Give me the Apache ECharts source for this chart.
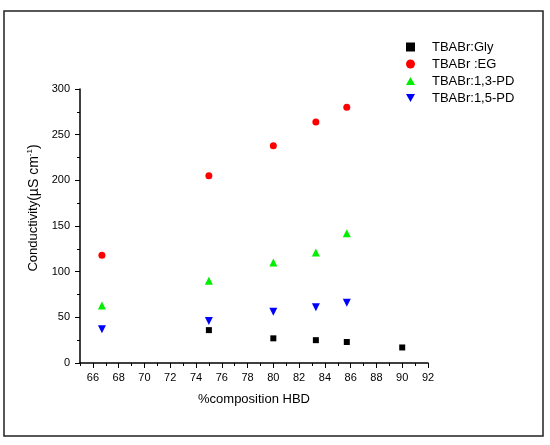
<!DOCTYPE html>
<html>
<head>
<meta charset="utf-8">
<script src="https://cdn.jsdelivr.net/npm/echarts@6/dist/echarts.min.js"></script>
<style>
  html, body { margin: 0; padding: 0; background: #fff; }
  #chart { width: 550px; height: 445px; }
</style>
</head>
<body>
<div id="chart"></div>
<script>
  // composition of HBD (%) and conductivity (uS/cm)
  var hbd = [66.7, 75, 80, 83.3, 85.7];
  var hbdGly = [75, 80, 83.3, 85.7, 90];
  var gly = [36, 27, 25, 23, 17];
  var eg = [118, 205, 238, 264, 280];
  var pd13 = [63, 90, 110, 121, 142];
  var pd15 = [37, 46, 56, 61, 66];

  var xMajor = [66, 68, 70, 72, 74, 76, 78, 80, 82, 84, 86, 88, 90, 92];
  var xMinor = [65, 67, 69, 71, 73, 75, 77, 79, 81, 83, 85, 87, 89, 91];

  var font = 'Liberation Sans, Arial, sans-serif';

  function pairs(xs, ys) {
    var res = [];
    for (var i = 0; i < ys.length; i++) {
      res.push([xs[i], ys[i]]);
    }
    return res;
  }

  var downTri = 'path://M0,0 L10,0 L5,9 Z';
  var upTri = 'path://M5,0 L10,9 L0,9 Z';

  var chart = echarts.init(document.getElementById('chart'));

  var option = {
    animation: false,
    backgroundColor: '#fff',
    textStyle: { fontFamily: font },
    graphic: [{
      type: 'rect',
      shape: { x: 4, y: 11, width: 539, height: 425 },
      style: { fill: 'none', stroke: '#222', lineWidth: 1.5 }
    }],
    grid: { left: 80, right: 122, top: 89, bottom: 82 },
    legend: {
      left: 401,
      top: 35,
      orient: 'vertical',
      itemWidth: 9,
      itemHeight: 9,
      itemGap: 3,
      textStyle: { fontFamily: font, fontSize: 13, color: '#000', lineHeight: 14, padding: [0, 0, 0, 12] },
      data: [
        { name: 'TBABr:Gly', icon: 'path://M0,0 L8,0 L8,8 L0,8 Z' },
        { name: 'TBABr :EG', icon: 'circle' },
        { name: 'TBABr:1,3-PD', icon: upTri },
        { name: 'TBABr:1,5-PD', icon: downTri }
      ]
    },
    xAxis: [{
      type: 'value',
      min: 65,
      max: 92,
      name: '%composition HBD',
      nameLocation: 'middle',
      nameGap: 30,
      nameTextStyle: { fontFamily: font, fontSize: 13, color: '#000' },
      splitLine: { show: false },
      axisLine: { show: true, onZero: false, lineStyle: { color: '#000', width: 1.5 } },
      axisTick: { show: true, length: 5, lineStyle: { color: '#000' }, customValues: xMajor },
      axisLabel: { margin: 9, fontSize: 11, color: '#000', fontFamily: font, customValues: xMajor }
    }, {
      type: 'value',
      position: 'bottom',
      min: 65,
      max: 92,
      splitLine: { show: false },
      axisLine: { show: false },
      axisTick: { show: true, length: 3, lineStyle: { color: '#000' }, customValues: xMinor },
      axisLabel: { show: false }
    }],
    yAxis: {
      type: 'value',
      min: 0,
      max: 300,
      interval: 50,
      name: '{a|Conductivity}{b|(µS cm}{s|-1}{b|)}',
      nameLocation: 'middle',
      nameGap: 38,
      nameTextStyle: {
        fontFamily: font,
        color: '#000',
        padding: [0, 0, 0, 36],
        rich: {
          a: { fontSize: 13, fontFamily: font, color: '#000', lineHeight: 16 },
          b: { fontSize: 14, fontFamily: font, color: '#000', lineHeight: 16 },
          s: { fontSize: 8, fontFamily: font, color: '#000', verticalAlign: 'top', lineHeight: 16, padding: [0, 0, 6, 0] }
        }
      },
      splitLine: { show: false },
      axisLine: { show: true, lineStyle: { color: '#000', width: 1.5 } },
      axisTick: { show: true, length: 5, lineStyle: { color: '#000' } },
      minorTick: { show: true, splitNumber: 2, length: 3, lineStyle: { color: '#000' } },
      axisLabel: { margin: 10, fontSize: 11, color: '#000', fontFamily: font }
    },
    series: [{
      name: 'TBABr:Gly',
      type: 'scatter',
      symbol: 'rect',
      symbolSize: 6,
      itemStyle: { color: '#000', opacity: 1 },
      data: pairs(hbdGly, gly)
    }, {
      name: 'TBABr :EG',
      type: 'scatter',
      symbol: 'circle',
      symbolSize: 7,
      itemStyle: { color: '#ff0000', opacity: 1 },
      data: pairs(hbd, eg)
    }, {
      name: 'TBABr:1,3-PD',
      type: 'scatter',
      symbol: upTri,
      symbolSize: 8,
      itemStyle: { color: '#00ee00', opacity: 1 },
      data: pairs(hbd, pd13)
    }, {
      name: 'TBABr:1,5-PD',
      type: 'scatter',
      symbol: downTri,
      symbolSize: 8,
      itemStyle: { color: '#0000ff', opacity: 1 },
      data: pairs(hbd, pd15)
    }]
  };

  chart.setOption(option);
</script>
</body>
</html>
